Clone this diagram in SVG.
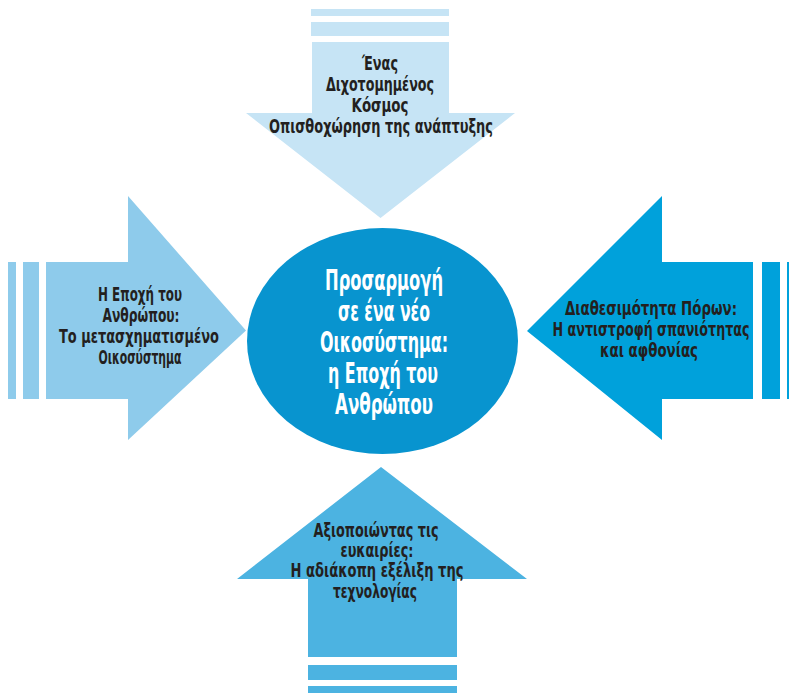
<svg xmlns="http://www.w3.org/2000/svg" width="789" height="693" viewBox="0 0 789 693">
<style>
.t{font-family:"DejaVu Sans Condensed","DejaVu Sans","Liberation Sans",sans-serif;font-stretch:condensed;font-weight:bold;font-size:18.5px;fill:#231f20;text-anchor:middle}
.w{font-size:29px;fill:#ffffff}
.top{fill:#c6e4f5}
.left{fill:#8ecbeb}
.right{fill:#00a1db}
.bottom{fill:#4cb3e1}
</style>
<rect x="0" y="0" width="789" height="693" fill="#ffffff"/>
<g id="connectors"/>
<g id="arrow-top">
<rect class="top" x="311" y="9" width="138" height="7"/>
<rect class="top" x="311" y="22" width="138" height="14"/>
<polygon class="top" points="312,42 449,42 449,113 515,113 380.5,218 246,113 312,113"/>
<text class="t" x="380" y="70" textLength="36" lengthAdjust="spacingAndGlyphs">Ένας</text>
<text class="t" x="380" y="91" textLength="108" lengthAdjust="spacingAndGlyphs">Διχοτομημένος</text>
<text class="t" x="380" y="112" textLength="57" lengthAdjust="spacingAndGlyphs">Κόσμος</text>
<text class="t" x="381" y="133" textLength="224" lengthAdjust="spacingAndGlyphs">Οπισθοχώρηση της ανάπτυξης</text>
</g>
<g id="arrow-left">
<rect class="left" x="8" y="262" width="8" height="137"/>
<rect class="left" x="23" y="262" width="16" height="137"/>
<polygon class="left" points="46,262 128,262 128,196 246,330.5 128,440 128,399 46,399"/>
<text class="t" x="140" y="301" textLength="84" lengthAdjust="spacingAndGlyphs">Η Εποχή του</text>
<text class="t" x="141" y="322" textLength="77" lengthAdjust="spacingAndGlyphs">Ανθρώπου:</text>
<text class="t" x="139" y="343" textLength="160" lengthAdjust="spacingAndGlyphs">Το μετασχηματισμένο</text>
<text class="t" x="140" y="364" textLength="83" lengthAdjust="spacingAndGlyphs">Οικοσύστημα</text>
</g>
<g id="arrow-right">
<rect class="right" x="762" y="262" width="18" height="137"/>
<rect class="right" x="787" y="262" width="8" height="137"/>
<polygon class="right" points="753,262 662,262 662,196 527,331 662,440 662,399 753,399"/>
<text class="t" x="651" y="315" textLength="172" lengthAdjust="spacingAndGlyphs">Διαθεσιμότητα Πόρων:</text>
<text class="t" x="651" y="336" textLength="197" lengthAdjust="spacingAndGlyphs">Η αντιστροφή σπανιότητας</text>
<text class="t" x="649" y="357" textLength="98" lengthAdjust="spacingAndGlyphs">και αφθονίας</text>
</g>
<g id="arrow-bottom">
<polygon class="bottom" points="308,657 308,579 237,579 381,467 527,579 457,579 457,657"/>
<rect class="bottom" x="308" y="665" width="149" height="15"/>
<rect class="bottom" x="308" y="686" width="149" height="10"/>
<text class="t" x="376" y="537" textLength="125" lengthAdjust="spacingAndGlyphs">Αξιοποιώντας τις</text>
<text class="t" x="377" y="557" textLength="73" lengthAdjust="spacingAndGlyphs">ευκαιρίες:</text>
<text class="t" x="377" y="577" textLength="173" lengthAdjust="spacingAndGlyphs">Η αδιάκοπη εξέλιξη της</text>
<text class="t" x="375" y="598" textLength="84" lengthAdjust="spacingAndGlyphs">τεχνολογίας</text>
</g>
<g id="center">
<ellipse cx="382.5" cy="341" rx="135.5" ry="113" fill="#0894cf"/>
<text class="t w" x="384" y="290" textLength="118" lengthAdjust="spacingAndGlyphs">Προσαρμογή</text>
<text class="t w" x="384" y="321" textLength="92" lengthAdjust="spacingAndGlyphs">σε ένα νέο</text>
<text class="t w" x="384" y="352" textLength="128" lengthAdjust="spacingAndGlyphs">Οικοσύστημα:</text>
<text class="t w" x="383" y="383" textLength="110" lengthAdjust="spacingAndGlyphs">η Εποχή του</text>
<text class="t w" x="384" y="414" textLength="98" lengthAdjust="spacingAndGlyphs">Ανθρώπου</text>
</g>
</svg>
